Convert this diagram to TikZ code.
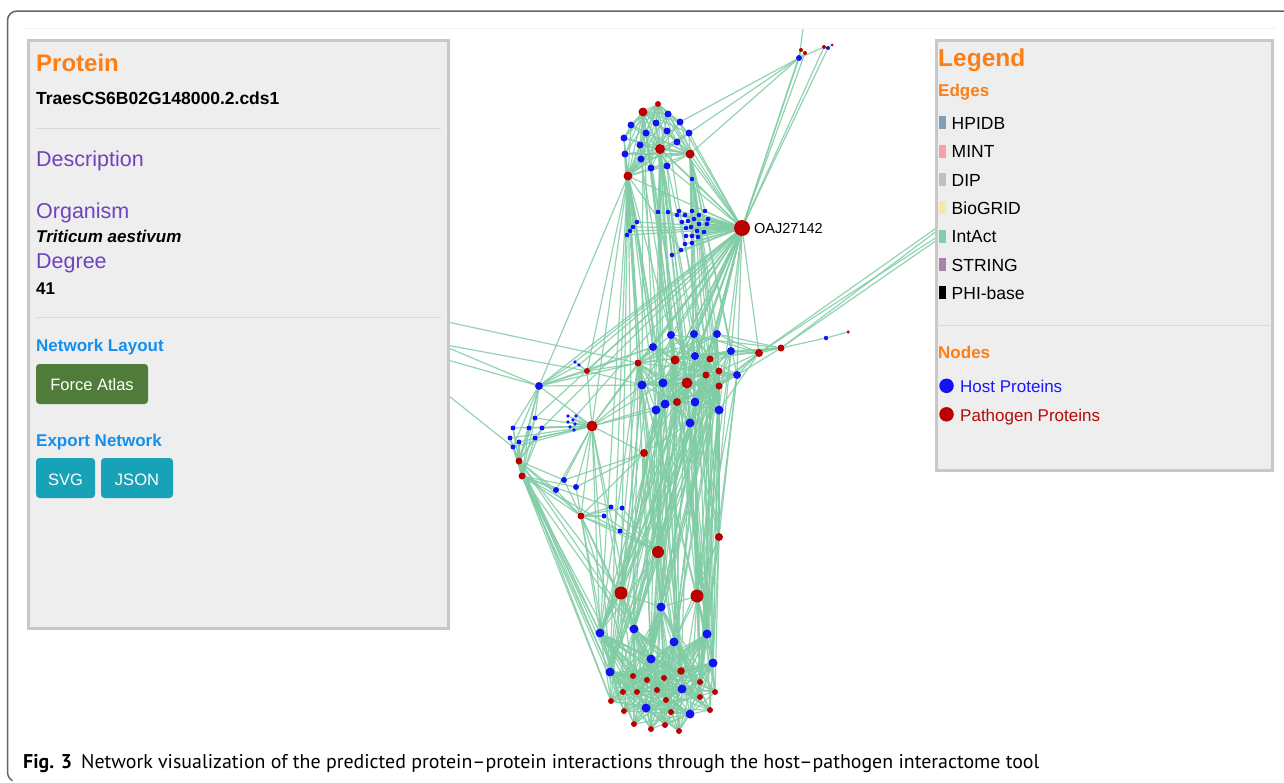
\documentclass[tikz,border=0pt]{standalone}
\usepackage{fontspec}
\setmainfont{Liberation Sans}
\newfontfamily\capfont{PT Sans}
\definecolor{hostblue}{RGB}{18,18,245}
\definecolor{pathred}{RGB}{186,0,0}
\definecolor{edgegreen}{RGB}{128,204,165}
\definecolor{uiorange}{RGB}{253,126,20}
\definecolor{uipurple}{RGB}{111,66,193}
\definecolor{uiblue}{RGB}{22,143,235}
\definecolor{btngreen}{RGB}{79,125,57}
\definecolor{btnteal}{RGB}{23,162,184}
\definecolor{panelfill}{RGB}{238,238,238}
\definecolor{panelborder}{RGB}{200,200,200}
\definecolor{rulegray}{RGB}{216,216,216}
\definecolor{framegray}{RGB}{100,100,100}
\definecolor{hpidbc}{RGB}{125,160,180}
\definecolor{mintc}{RGB}{246,160,168}
\definecolor{dipc}{RGB}{192,192,192}
\definecolor{biogridc}{RGB}{246,234,160}
\definecolor{intactc}{RGB}{128,207,169}
\definecolor{stringc}{RGB}{168,130,168}
\definecolor{hosttxt}{RGB}{25,25,250}
\definecolor{pathtxt}{RGB}{180,10,10}
\pgfdeclarelayer{bg}
\pgfdeclarelayer{edges}
\pgfdeclarelayer{front}
\pgfsetlayers{bg,edges,main,front}
\begin{document}
\begin{tikzpicture}[x=1pt,y=-1pt,
  hb/.style={circle,fill=hostblue,inner sep=0pt,minimum size=#1},
  hb/.default=8pt,
  pr/.style={circle,fill=pathred,inner sep=0pt,minimum size=#1},
  pr/.default=8pt,
  lnk/.style={draw=edgegreen,line width=1.2pt,opacity=0.85},
  txt/.style={anchor=base west,inner sep=0pt},
  panel/.style={fill=panelfill,draw=panelborder,line width=3pt},
  hrule/.style={draw=rulegray,line width=1pt},
  btn/.style={rounded corners=3.5pt},
  legbar/.style={minimum width=7pt,minimum height=13pt,inner sep=0pt,anchor=south west}
]
\useasboundingbox (0,0) rectangle (1284,782);
\begin{pgfonlayer}{bg}
\fill[white] (0,0) rectangle (1284,782);
\end{pgfonlayer}

% ---------- nodes ----------
% top-right mini cluster
\node[hb=6pt] (ta) at (799,58) {};
\node[pr=4pt] (tb) at (801,50) {};
\node[pr=4pt] (tc) at (805,53) {};
\node[pr=4pt] (te) at (824,47) {};
\node[hb=4pt] (tf) at (828,48) {};
\node[pr=3pt] (tg) at (832,45) {};
\coordinate (topout) at (807,0);
% top cluster
\node[pr=6pt] (t1) at (658,104) {};
\node[pr=9pt] (t2) at (643,112) {};
\node[hb=7pt] (t3) at (668,114) {};
\node[hb=7pt] (t4) at (631,125) {};
\node[hb=7pt] (t5) at (656,123) {};
\node[hb=7pt] (t6) at (680,122) {};
\node[hb=7pt] (t7) at (646,133) {};
\node[hb=7pt] (t8) at (667,131) {};
\node[hb=7pt] (t9) at (689,133) {};
\node[hb=7pt] (t10) at (624,138) {};
\node[hb=7pt] (t11) at (640,145) {};
\node[pr=10pt] (t12) at (660,149) {};
\node[hb=7pt] (t13) at (677,142) {};
\node[pr=9pt] (t14) at (690,154) {};
\node[hb=7pt] (t15) at (625,154) {};
\node[hb=7pt] (t16) at (641,159) {};
\node[hb=7pt] (t17) at (651,168) {};
\node[hb=7pt] (t18) at (667,166) {};
\node[pr=9pt] (t19) at (628,176) {};
\node[hb=4.5pt] (t20) at (692,179) {};
% small dots
\foreach \n/\x/\y in {1/658/212,2/668/212,3/679/211,4/677/215,5/685/215,6/692/211,7/699/215,8/705/211,9/708/219,10/682/222,11/688/221,12/694/219,13/699/224,14/707/224,15/686/228,16/691/227,17/697/231,18/704/232,19/686/236,20/692/236,21/698/237,22/685/244,23/692/243,24/681/250,25/672/255,26/637/222,27/633/227,28/630/231,29/627/235}
  \node[hb=4.6pt] (s\n) at (\x,\y) {};
% hub
\node[pr=16pt] (oaj) at (742,228) {};
\node[txt] (oajlab) at (754,233) {\fontsize{14.5}{17}\selectfont OAJ27142};
% middle cluster
\node[hb=8pt] (m1) at (671,335) {};
\node[hb=8pt] (m2) at (694,334) {};
\node[hb=8pt] (m3) at (717,334) {};
\node[hb=8pt] (m4) at (653,347) {};
\node[hb=8pt] (m5) at (731,351) {};
\node[pr=7pt] (m6) at (638,363) {};
\node[pr=9pt] (m7) at (675,360) {};
\node[hb=8pt] (m8) at (695,356) {};
\node[pr=7pt] (m9) at (710,359) {};
\node[pr=7pt] (m10) at (719,371) {};
\node[pr=7pt] (m11) at (706,375) {};
\node[hb=8pt] (m12) at (737,375) {};
\node[hb=9pt] (m13) at (642,385) {};
\node[hb=9pt] (m14) at (663,383) {};
\node[pr=11pt] (m15) at (687,383) {};
\node[pr=7pt] (m16) at (719,386) {};
\node[pr=8pt] (m17) at (677,402) {};
\node[hb=9pt] (m18) at (695,402) {};
\node[hb=9pt] (m19) at (665,404) {};
\node[hb=9pt] (m20) at (656,410) {};
\node[hb=9pt] (m21) at (719,410) {};
\node[hb=9pt] (m22) at (690,423) {};
% right arm
\node[pr=8pt] (r1) at (759,353) {};
\node[pr=7pt] (r2) at (781,348) {};
\node[hb=4.5pt] (r3) at (826,338) {};
\node[pr=3.5pt] (r4) at (848,332) {};
% left group
\node[hb=8pt] (l1) at (539,386) {};
\node[pr=6pt] (l2) at (587,371) {};
\node[hb=3.8pt] (l3) at (575,362) {};
\node[hb=3.8pt] (l4) at (579,365) {};
\node[pr=11pt] (l5) at (592,426) {};
\foreach \n/\x/\y in {1/568/416,2/573/420,3/576/416,4/568/422,5/575/424,6/570/427,7/574/430}
  \node[hb=3.8pt] (u\n) at (\x,\y) {};
\node[hb=5pt] (l6) at (535,418) {};
\node[hb=5pt] (l7) at (513,428) {};
\node[hb=5pt] (l8) at (529,428) {};
\node[hb=5pt] (l9) at (542,428) {};
\node[hb=5pt] (l10) at (510,438) {};
\node[hb=5pt] (l11) at (535,438) {};
\node[hb=5pt] (l12) at (519,442) {};
\node[hb=5pt] (l13) at (513,447) {};
\node[pr=7pt] (l14) at (519,461) {};
\node[pr=7pt] (l15) at (522,476) {};
\node[pr=8pt] (l16) at (644,453) {};
\node[hb=6pt] (l17) at (564,480) {};
\node[hb=6pt] (l18) at (556,490) {};
\node[hb=6pt] (l19) at (576,487) {};
\node[pr=7pt] (l20) at (581,516) {};
\node[hb=5pt] (l21) at (611,507) {};
\node[hb=5pt] (l22) at (622,508) {};
\node[hb=5pt] (l23) at (604,516) {};
\node[hb=5pt] (l24) at (620,531) {};
\node[pr=8pt] (l25) at (719,537) {};
% lower hubs
\node[pr=12pt] (p1) at (658,552) {};
\node[pr=13pt] (p2) at (621,593) {};
\node[pr=13pt] (p3) at (697,596) {};
% bottom cluster
\node[hb=9pt] (b1) at (661,607) {};
\node[hb=9pt] (b2) at (600,633) {};
\node[hb=9pt] (b3) at (634,629) {};
\node[hb=9pt] (b4) at (674,642) {};
\node[hb=9pt] (b5) at (707,634) {};
\node[hb=9pt] (b6) at (651,659) {};
\node[hb=9pt] (b7) at (713,663) {};
\node[hb=9pt] (b8) at (610,672) {};
\node[pr=7.5pt] (b9) at (681,671) {};
\node[hb=9pt] (b10) at (682,689) {};
\node[hb=9pt] (b11) at (646,708) {};
\node[hb=9pt] (b12) at (690,714) {};
\foreach \n/\x/\y in {1/633/676,2/647/680,3/664/678,4/700/682,5/623/692,6/637/692,7/657/690,8/700/697,9/715/692,10/611/701,11/666/700,12/624/711,13/671/712,14/710/710,15/634/724,16/651/729,17/665/725,18/679/731}
  \node[pr=6pt] (c\n) at (\x,\y) {};
% hidden end points behind the panels
\coordinate (hl) at (322,295);
\coordinate (hl2) at (300,318);
\coordinate (hr) at (1010,176);
\coordinate (hr2) at (1012,188);

% ---------- edges ----------
\begin{pgfonlayer}{edges}
\begin{scope}
\clip (0,28) rectangle (1284,782);
% top-right mini cluster
\foreach \a/\b in {ta/topout,ta/tb,ta/tc,tb/tc,te/tf,tf/tg,ta/te,ta/t9,ta/t14,ta/t6,ta/oaj,tb/oaj,tc/oaj,tf/oaj,te/oaj}
  \draw[lnk] (\a) -- (\b);
% top cluster internal
\foreach \a in {t1,t2,t12,t14,t19}{
  \foreach \b in {t3,t4,t5,t6,t7,t8,t9,t10,t11,t13,t15,t16,t17,t18}
    \draw[lnk] (\a) -- (\b);}
\foreach \a/\b in {t1/t2,t2/t12,t12/t14,t12/t19,t2/t19,t1/t14,t1/t12,t4/t10,t10/t15,t3/t6,t5/t8,t7/t11,t11/t16,t16/t17,t17/t18,t9/t13,t14/t20,t12/t20}
  \draw[lnk] (\a) -- (\b);
% hub OAJ
\foreach \n in {1,...,29} \draw[lnk] (s\n) -- (oaj);
\foreach \b in {t3,t6,t9,t12,t13,t14,t18,t19,t20,m1,m2,m3,m4,m5,m6,m7,m8,m9,m12,m13,m14,m15,m18,m19,m20,m21,m22,l1,l2,l3,l4,l5,l6,l9,u3,l16,r1,p1,b2}
  \draw[lnk] (oaj) -- (\b);
\foreach \a/\b in {t19/s26,t19/s27,t19/s28,t19/s29,t12/s1,t12/s25,t14/s8,t15/s29,t19/s24}
  \draw[lnk] (\a) -- (\b);
% top to middle and bottom
\foreach \b in {m1,m4,m6,m13,m14,m19,m20,l1,l2,l5,b2,b3,b8,p2}
  \draw[lnk] (t19) -- (\b);
\foreach \b in {m1,m2,m7,m8,m14,m15,m18,m22,b1,b6,p1}
  \draw[lnk] (t12) -- (\b);
\foreach \b in {m2,m3,m5,m9,m10,m12,m16,m21,b5,b7,p3,l25}
  \draw[lnk] (t14) -- (\b);
\foreach \a/\b in {t2/m4,t2/m13,t2/m7,t2/m15,t15/m4,t15/m13,t17/m7,t17/m15,t18/m9,t18/m15,t16/m7,t10/m6,t11/m14,t7/m17,t8/m11,t5/m17}
  \draw[lnk] (\a) -- (\b);
% middle internal
\foreach \a in {m6,m7,m9,m10,m11,m15,m16,m17}{
  \foreach \b in {m1,m2,m3,m4,m5,m8,m12,m13,m14,m18,m19,m20,m21,m22}
    \draw[lnk] (\a) -- (\b);}
% middle to bottom
\foreach \a in {m6,m7,m9,m10,m11,m15,m16,m17}{
  \foreach \b in {b1,b2,b3,b4,b5,b6,b7,b8}
    \draw[lnk] (\a) -- (\b);}
\foreach \a in {m1,m4,m13,m14,m19,m20,m22}{
  \foreach \b in {p2,b9}
    \draw[lnk] (\a) -- (\b);}
\foreach \a in {m2,m3,m5,m12,m18,m21,m22}{
  \foreach \b in {p3,c4}
    \draw[lnk] (\a) -- (\b);}
% right arm
\foreach \b in {m2,m3,m5,m8,m12,m18,m21,m10,m16,r2}
  \draw[lnk] (r1) -- (\b);
\foreach \b in {m3,m5,m12,m1,m8,m9,r3}
  \draw[lnk] (r2) -- (\b);
\foreach \a/\b in {r3/r4,hr/r1,hr/r2,hr2/r1,hr2/r2}
  \draw[lnk] (\a) -- (\b);
% left group
\foreach \a/\b in {hl/m6,hl/l1,hl/l13,hl2/l1,hl2/l2}
  \draw[lnk] (\a) -- (\b);
\foreach \b in {u1,u2,u3,u4,u5,u6,u7,l6,l7,l8,l9,l10,l11,l12,l13,l1,l2,m6,m13,m14,m19,m20,l16,l17,l18,l19,l20,b2,b3,p2,b8}
  \draw[lnk] (l5) -- (\b);
\foreach \a in {l14,l15}{
  \foreach \b in {l6,l7,l8,l9,l10,l11,l12,l13}
    \draw[lnk] (\a) -- (\b);}
\foreach \b in {l1,l17,l18,b2,b8,c10,c5,p2,b3,l20,l15}
  \draw[lnk] (l14) -- (\b);
\foreach \b in {l18,l19,l20,b2,b8,c10,c12,b6,b11,p1,l21}
  \draw[lnk] (l15) -- (\b);
\foreach \b in {l2,l3,l4,m6,m13,l13,l8,l7,m4,l6}
  \draw[lnk] (l1) -- (\b);
\foreach \b in {l3,l4,m6,m13,m4}
  \draw[lnk] (l2) -- (\b);
\foreach \b in {m19,m20,m22,l17,l19,b1,b3,b6,p1,l20,m17}
  \draw[lnk] (l16) -- (\b);
\foreach \b in {l21,l22,l23,l24,p1,b2,b3,b8,b6,c1,l17,l18,l19}
  \draw[lnk] (l20) -- (\b);
\foreach \b in {m21,m18,m16,m22,b5,b7,b4,p3,c9,c4,m10,m12}
  \draw[lnk] (l25) -- (\b);
\foreach \b in {m19,m20,m22,m18,m13,m14,b1,b3,b4,b6,b2,l23,l24,l21,l22}
  \draw[lnk] (p1) -- (\b);
\foreach \b in {b2,b3,b1,b6,b8,c1,c5,c10,m13,m19,m20}
  \draw[lnk] (p2) -- (\b);
\foreach \b in {b1,b4,b5,b7,b10,b12,m18,m21,m1,c9,c8}
  \draw[lnk] (p3) -- (\b);
% bottom internal
\foreach \a in {b1,b2,b3,b4,b5,b6,b7,b8,b10,b11,b12}{
  \foreach \b in {b9,c1,c2,c3,c4,c5,c6,c7,c8,c9,c10,c11,c12,c13,c14,c15,c16,c17,c18}
    \draw[lnk] (\a) -- (\b);}
\end{scope}
\end{pgfonlayer}

% ---------- front: frame and panels ----------
\begin{pgfonlayer}{front}
\draw[framegray,line width=1.5pt] (1284,11) -- (17,11) arc[start angle=-90,end angle=-180,radius=9.5] -- (7.5,772) arc[start angle=180,end angle=120,radius=10];
\draw[draw=black!5,line width=1pt] (25,28) -- (1276,28);
% left panel
\path[panel] (28,40) rectangle (448,628);
\node[txt,text=uiorange] (ptitle) at (36,71) {\fontsize{24}{28}\selectfont\bfseries Protein};
\node[txt] (pid) at (36,104) {\fontsize{17.5}{20}\selectfont\bfseries TraesCS6B02G148000.2.cds1};
\draw[hrule] (36,128) -- (441,128);
\node[txt,text=uipurple] (pdesc) at (36,166) {\fontsize{21.5}{25}\selectfont Description};
\node[txt,text=uipurple] (porg) at (36,218) {\fontsize{21.5}{25}\selectfont Organism};
\node[txt] (porgv) at (36,242) {\fontsize{17}{20}\selectfont\bfseries\itshape Triticum aestivum};
\node[txt,text=uipurple] (pdeg) at (36,268) {\fontsize{21.5}{25}\selectfont Degree};
\node[txt] (pdegv) at (36,294) {\fontsize{17}{20}\selectfont\bfseries 41};
\draw[hrule] (36,317) -- (441,317);
\node[txt,text=uiblue] (netlay) at (36,351) {\fontsize{17}{20}\selectfont\bfseries Network Layout};
\fill[btngreen,btn] (36,364) rectangle (148,404);
\node[anchor=base,inner sep=0pt,text=white] (bforce) at (92,390.5) {\fontsize{16.5}{19}\selectfont Force Atlas};
\node[txt,text=uiblue] (netexp) at (36,446) {\fontsize{17}{20}\selectfont\bfseries Export Network};
\fill[btnteal,btn] (36,458) rectangle (95,498);
\fill[btnteal,btn] (101,458) rectangle (173,498);
\node[anchor=base,inner sep=0pt,text=white] (bsvg) at (65.5,485) {\fontsize{16.5}{19}\selectfont SVG};
\node[anchor=base,inner sep=0pt,text=white] (bjson) at (137,485) {\fontsize{16.5}{19}\selectfont JSON};
% legend panel
\path[panel] (936,40) rectangle (1272,470);
\node[txt,text=uiorange] (legt) at (938,66) {\fontsize{24.5}{28}\selectfont\bfseries Legend};
\node[txt,text=uiorange] (legedges) at (938,96) {\fontsize{17}{20}\selectfont\bfseries Edges};
\foreach \k/\lab/\col [count=\i from 0] in {hp/HPIDB/hpidbc,mi/MINT/mintc,di/DIP/dipc,bg/BioGRID/biogridc,ia/IntAct/intactc,st/STRING/stringc,ph/PHI-base/black}{
  \node[legbar,fill=\col] (bar\k) at (938.5,129.5+28.33*\i) {};
  \node[txt] (lab\k) at (951.5,129.5+28.33*\i) {\fontsize{17.5}{20}\selectfont \lab};
}
\draw[hrule] (937,325) -- (1270,325);
\node[txt,text=uiorange] (legnodes) at (938,358.5) {\fontsize{17}{20}\selectfont\bfseries Nodes};
\node[circle,fill=hostblue,inner sep=0pt,minimum size=14.5pt] (lhost) at (946.5,385.8) {};
\node[txt,text=hosttxt] (lhostlab) at (960,392.3) {\fontsize{17}{20}\selectfont Host Proteins};
\node[circle,fill=pathred,inner sep=0pt,minimum size=14.5pt] (lpath) at (946.5,414.3) {};
\node[txt,text=pathtxt] (lpathlab) at (960,421) {\fontsize{17}{20}\selectfont Pathogen Proteins};
% caption
\node[txt] (caption) at (23,768) {\capfont\fontsize{19.9}{23}\selectfont\textbf{Fig. 3}\hspace{9pt}Network visualization of the predicted protein–protein interactions through the host–pathogen interactome tool};
\end{pgfonlayer}
\end{tikzpicture}
\end{document}
